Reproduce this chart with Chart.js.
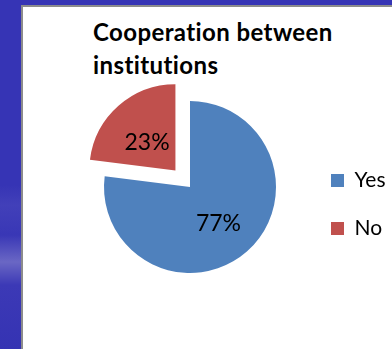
<!DOCTYPE html>
<html lang="en">

<head>
    <meta charset="utf-8">
    <title>Cooperation between institutions</title>
    <script src="https://cdn.jsdelivr.net/npm/chart.js@4.4.0/dist/chart.umd.min.js"></script>

    <style>
        body {
            margin: 0;
            padding: 0;
            width: 392px;
            height: 349px;
            overflow: hidden;
            position: relative;
            background: linear-gradient(to bottom,
                #3634b5 0px, #3634b5 185px, #4240b9 205px, #3937b6 235px,
                #6a67c4 262px, #3c39b6 285px, #3533b3 349px);
        }

        #panel {
            position: absolute;
            left: 21px;
            top: 5px;
            right: 0;
            bottom: 0;
            background: #fff;
            border-left: 2px solid #8c8c8c;
            border-top: 2px solid #8c8c8c;
        }

        #title {
            position: absolute;
            left: 93px;
            top: 15px;
            font-family: 'Lato', 'Liberation Sans', sans-serif;
            font-weight: bold;
            font-size: 24px;
            letter-spacing: 0.4px;
            line-height: 33px;
            color: #000;
        }

        #pieChart {
            position: absolute;
            left: 0;
            top: 0;
        }
    </style>
</head>

<body>
    <div id="panel"></div>
    <div id="title">Cooperation between<br>institutions</div>
    <canvas id="pieChart" width="392" height="349"></canvas>

    <script>
        const categories = ['Yes', 'No'];
        const shares = [77, 23];
        const sliceColors = ['#4f81bd', '#c0504d'];

        // writes the percentage on each slice, following the slice's offset
        const sliceLabels = {
            id: 'sliceLabels',
            afterDatasetsDraw(chart) {
                const ctx = chart.ctx;
                const meta = chart.getDatasetMeta(0);
                ctx.save();
                ctx.font = '23px Lato, "Liberation Sans", sans-serif';
                ctx.fillStyle = '#000';
                ctx.textAlign = 'center';
                ctx.textBaseline = 'alphabetic';
                meta.data.forEach((arc, i) => {
                    const p = arc.getProps(['x', 'y', 'startAngle', 'endAngle', 'outerRadius'], true);
                    const mid = (p.startAngle + p.endAngle) / 2;
                    const dist = (arc.options.offset || 0) / 4 + p.outerRadius * 0.5;
                    const tx = p.x + Math.cos(mid) * dist;
                    const ty = p.y + Math.sin(mid) * dist;
                    ctx.fillText(shares[i] + '%', tx, ty + 12);
                });
                ctx.restore();
            }
        };

        const ctx = document.getElementById('pieChart').getContext('2d');

        const pieChart = new Chart(ctx, {
            type: 'pie',
            data: {
                labels: categories,
                datasets: [{
                    data: shares,
                    backgroundColor: sliceColors,
                    borderWidth: 0,
                    offset: [0, 88],
                    radius: 86,
                    clip: false
                }]
            },
            options: {
                responsive: false,
                animation: false,
                events: [],
                layout: {
                    padding: { left: 76, right: 0, top: 108, bottom: 83 }
                },
                plugins: {
                    title: { display: false },
                    tooltip: { enabled: false },
                    legend: {
                        position: 'right',
                        align: 'end',
                        maxWidth: 88,
                        labels: {
                            boxWidth: 13,
                            boxHeight: 13,
                            padding: 27,
                            color: '#000',
                            font: { family: 'Lato, "Liberation Sans", sans-serif', size: 21 }
                        }
                    }
                }
            },
            plugins: [sliceLabels]
        });
    </script>
</body>

</html>
